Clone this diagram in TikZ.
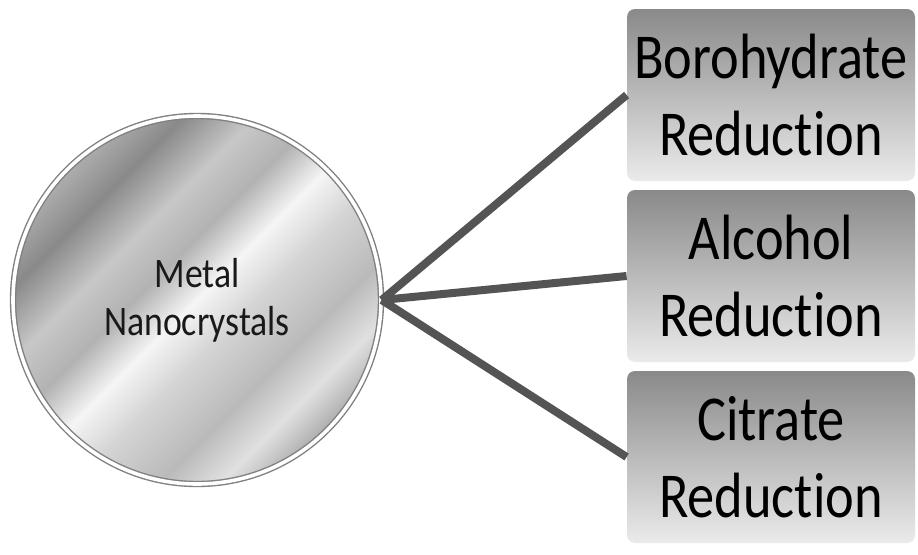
\documentclass[tikz,border=0pt]{standalone}
\usepackage{fontspec}
\setmainfont{Carlito}[FakeStretch=0.85, Ligatures=NoCommon]

\pgfdeclarehorizontalshading{silver}{100bp}{color(0bp)=(black!32); color(25bp)=(black!32); color(31bp)=(black!46); color(38bp)=(black!22); color(44bp)=(black!30); color(50bp)=(black!4); color(56bp)=(black!17); color(64bp)=(black!27); color(70bp)=(black!12); color(75bp)=(black!32); color(100bp)=(black!32)}

\begin{document}
\begin{tikzpicture}[x=0.5pt,y=0.5pt]
                        \tikzstyle{level 1}=[sibling distance=90.5pt, level distance=287pt]
                        \tikzstyle{metal}=[circle, minimum size=184pt, inner sep=0pt, shading=silver, shading angle=-45, draw=black!50, line width=0.7pt, double=white, double distance=1.8pt, text=black!90, font=\fontsize{21}{24}\selectfont, align=center]
                        \tikzstyle{method}=[rectangle, rounded corners=4pt, minimum width=144pt, minimum height=86pt, inner sep=0pt, top color=black!46, bottom color=black!8, font=\fontsize{32}{38.5}\selectfont, align=center, yshift=12pt]
                        \tikzstyle{link}=[draw=black!67, line width=4pt]
                        \useasboundingbox (0,0) rectangle (918,554);
                        \node[metal] (metal) at (197,254) {Metal\\Nanocrystals}
                            [grow'=right, edge from parent path={(\tikzparentnode.east) -- (\tikzchildnode.west)}, edge from parent/.style={link}]
                            child {node[method] (boro) {Borohydrate\\Reduction}
                            }
                            child {node[method] (alcohol) {Alcohol\\Reduction}
                            }
                            child {node[method] (citrate) {Citrate\\Reduction}
                            };
                    \end{tikzpicture}
\end{document}
